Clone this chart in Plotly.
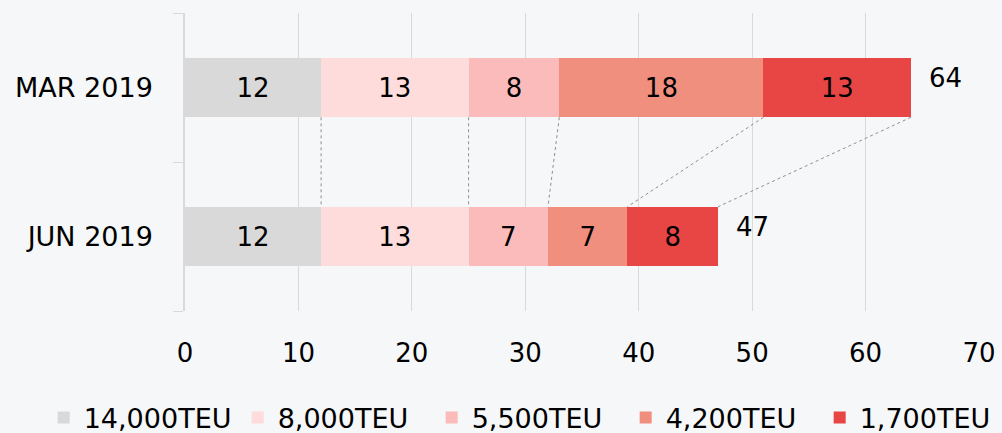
import plotly.graph_objects as go

categories = ["MAR 2019", "JUN 2019"]
series_names = ["14,000TEU", "8,000TEU", "5,500TEU", "4,200TEU", "1,700TEU"]
series_values = {
    "14,000TEU": [12, 12],
    "8,000TEU": [13, 13],
    "5,500TEU": [8, 7],
    "4,200TEU": [18, 7],
    "1,700TEU": [13, 8],
}
totals = [64, 47]
colors = ["#d9d9d9", "#ffdcdc", "#fbbbbb", "#f08f7e", "#e84545"]
x_ticks = [0, 10, 20, 30, 40, 50, 60, 70]

FONT = "DejaVu Sans"
BAR_W = 0.4

fig = go.Figure()
for name, col in zip(series_names, colors):
    vals = series_values[name]
    fig.add_trace(go.Bar(
        y=categories, x=vals, name=name, orientation="h",
        marker=dict(color=col, line=dict(width=0)),
        width=BAR_W,
        text=[str(v) for v in vals], textposition="inside",
        insidetextanchor="middle",
        textfont=dict(family=FONT, size=26, color="#000000"),
        hoverinfo="x+name",
    ))

# connector lines between cumulative segment ends
cum_mar, cum_jun = 0, 0
for name in series_names:
    cum_mar += series_values[name][0]
    cum_jun += series_values[name][1]
    fig.add_shape(type="line", xref="x", yref="y",
                  x0=cum_mar, y0=1 - BAR_W / 2, x1=cum_jun, y1=BAR_W / 2,
                  line=dict(color="#8f8f8f", width=1, dash="dot"))

for cat, tot in zip(categories, totals):
    fig.add_annotation(x=tot, y=cat, text=str(tot), showarrow=False,
                       xanchor="left", yanchor="middle", xshift=16, yshift=10,
                       font=dict(family=FONT, size=26, color="#000000"))

fig.update_layout(
    barmode="stack",
    width=1002, height=433,
    margin=dict(l=185, r=23, t=13, b=122, autoexpand=False),
    paper_bgcolor="#f5f7f9",
    plot_bgcolor="#f5f7f9",
    font=dict(family=FONT, size=26, color="#000000"),
    showlegend=True,
    legend=dict(orientation="h", x=-0.178, xanchor="left", y=-0.359, yanchor="middle",
                font=dict(family=FONT, size=27, color="#000000"),
                traceorder="normal", entrywidth=149, entrywidthmode="pixels",
                bgcolor="rgba(0,0,0,0)"),
    xaxis=dict(range=[0, 70], tickvals=x_ticks, showgrid=True,
               gridcolor="#d9d9d9", gridwidth=1, zeroline=False,
               showline=False, ticks="", ticklabelstandoff=24, automargin=False,
               tickfont=dict(family=FONT, size=26)),
    yaxis=dict(categoryorder="array", categoryarray=categories[::-1],
               showline=True, linecolor="#d9d9d9", linewidth=1.5,
               ticks="outside", tickson="boundaries", ticklen=10,
               tickcolor="#d9d9d9", showgrid=False, ticklabelstandoff=25,
               automargin=False, tickfont=dict(family=FONT, size=27)),
)

fig.write_html(
    "out.html",
    config={"displayModeBar": False},
    post_script="document.body.style.margin='0';document.body.style.overflow='hidden';",
)
